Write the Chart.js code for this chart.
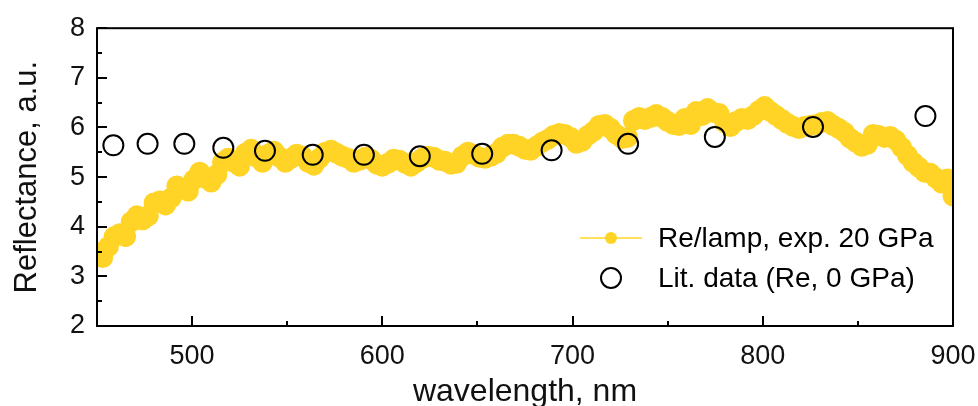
<!DOCTYPE html>
<html>
<head>
<meta charset="utf-8">
<script src="https://cdn.jsdelivr.net/npm/chart.js@4.4.0/dist/chart.umd.min.js"></script>
<style>
    html, body { margin: 0; padding: 0; background: #fff; }
    #wrap { width: 978px; height: 406px; position: relative; }
</style>
</head>
<body>
<div id="wrap"><canvas id="reflChart"></canvas></div>
<script>
// measured spectrum (Re/lamp ratio, 20 GPa)
const expWavelength = [
    450, 453, 456, 459, 462, 465, 468, 471, 474, 477, 480, 483, 486, 489, 492, 495, 498, 501, 504, 507,
    510, 513, 516, 519, 522, 525, 528, 531, 534, 537, 540, 543, 546, 549, 552, 555, 558, 561, 564, 567,
    570, 573, 576, 579, 582, 585, 588, 591, 594, 597, 600, 603, 606, 609, 612, 615, 618, 621, 624, 627,
    630, 633, 636, 639, 642, 645, 648, 651, 654, 657, 660, 663, 666, 669, 672, 675, 678, 681, 684, 687,
    690, 693, 696, 699, 702, 705, 708, 711, 714, 717, 720, 723, 726, 729, 732, 735, 738, 741, 744, 747,
    750, 753, 756, 759, 762, 765, 768, 771, 774, 777, 780, 783, 786, 789, 792, 795, 798, 801, 804, 807,
    810, 813, 816, 819, 822, 825, 828, 831, 834, 837, 840, 843, 846, 849, 852, 855, 858, 861, 864, 867,
    870, 873, 876, 879, 882, 885, 888, 891, 894, 897, 900
];
const expReflectance = [
    3.48, 3.38, 3.60, 3.80, 3.86, 3.80, 4.10, 4.22, 4.14, 4.22, 4.48, 4.52, 4.44, 4.58, 4.82, 4.76, 4.72, 4.95, 5.10, 4.98,
    4.90, 5.05, 5.30, 5.38, 5.30, 5.22, 5.48, 5.56, 5.40, 5.30, 5.46, 5.52, 5.40, 5.30, 5.38, 5.46, 5.42, 5.30, 5.24, 5.38,
    5.50, 5.54, 5.48, 5.42, 5.38, 5.30, 5.34, 5.40, 5.36, 5.26, 5.22, 5.28, 5.36, 5.34, 5.28, 5.22, 5.30, 5.38, 5.42, 5.40,
    5.34, 5.32, 5.26, 5.28, 5.42, 5.50, 5.46, 5.40, 5.38, 5.42, 5.48, 5.60, 5.66, 5.66, 5.62, 5.56, 5.54, 5.62, 5.70, 5.76,
    5.84, 5.88, 5.86, 5.80, 5.68, 5.72, 5.84, 5.92, 6.04, 6.06, 5.98, 5.86, 5.78, 5.80, 6.14, 6.20, 6.16, 6.20, 6.26, 6.20,
    6.12, 6.06, 6.04, 6.18, 6.06, 6.32, 6.24, 6.38, 6.30, 6.28, 6.10, 6.02, 6.12, 6.18, 6.16, 6.24, 6.34, 6.42, 6.32, 6.24,
    6.16, 6.08, 6.02, 5.98, 6.02, 6.04, 6.06, 6.10, 6.12, 6.04, 5.98, 5.90, 5.78, 5.70, 5.62, 5.66, 5.86, 5.84, 5.80, 5.82,
    5.74, 5.60, 5.44, 5.30, 5.20, 5.10, 5.08, 4.98, 4.88, 4.96, 4.62
];

// literature values for Re at ambient pressure
const litWavelength = [458.6, 476.6, 495.9, 516.4, 538.3, 563.4, 590.3, 619.7, 652.5, 689, 729.2, 774.8, 826.4, 885.5];
const litReflectance = [5.64, 5.67, 5.67, 5.59, 5.53, 5.45, 5.45, 5.42, 5.47, 5.54, 5.67, 5.81, 6.01, 6.23];

const xMajorTicks = [500, 600, 700, 800, 900];
const xMinorTicks = [550, 650, 750, 850];
const yMajorTicks = [2, 3, 4, 5, 6, 7, 8];
const yMinorTicks = [2.5, 3.5, 4.5, 5.5, 6.5, 7.5];

const YELLOW = '#ffd426';
const FONT = '"Liberation Sans", Arial, sans-serif';

const expPoints = expWavelength.map((w, i) => ({ x: w, y: expReflectance[i] }));
const litPoints = litWavelength.map((w, i) => ({ x: w, y: litReflectance[i] }));

// box around the plot + inward ticks
const frameTicks = {
    id: 'frameTicks',
    afterDatasetsDraw(chart) {
        const { ctx, chartArea: a, scales } = chart;
        ctx.save();
        ctx.strokeStyle = '#000';
        ctx.lineWidth = 2;
        ctx.strokeRect(a.left, a.top, a.right - a.left, a.bottom - a.top);

        ctx.beginPath();
        const xTick = (v, len) => {
            const px = Math.round(scales.x.getPixelForValue(v));
            ctx.moveTo(px, a.bottom);
            ctx.lineTo(px, a.bottom - len);
        };
        const yTick = (v, len) => {
            const py = Math.round(scales.y.getPixelForValue(v));
            ctx.moveTo(a.left, py);
            ctx.lineTo(a.left + len, py);
        };
        xMajorTicks.forEach(v => xTick(v, 10));
        xMinorTicks.forEach(v => xTick(v, 5));
        yMajorTicks.forEach(v => yTick(v, 10));
        yMinorTicks.forEach(v => yTick(v, 5));
        ctx.stroke();
        ctx.restore();
    }
};

// legend sits inside the plot, lower right
const insideLegend = {
    id: 'insideLegend',
    afterDraw(chart) {
        const ctx = chart.ctx;
        const ds = chart.data.datasets;
        const sx = 611, tx = 658;
        ctx.save();

        // experiment: thin line with a dot
        ctx.strokeStyle = YELLOW;
        ctx.lineWidth = 1.5;
        ctx.beginPath();
        ctx.moveTo(580, 238);
        ctx.lineTo(642, 238);
        ctx.stroke();
        ctx.fillStyle = YELLOW;
        ctx.beginPath();
        ctx.arc(sx, 238, 6, 0, Math.PI * 2);
        ctx.fill();

        // literature: open circle
        ctx.strokeStyle = '#000';
        ctx.lineWidth = 2;
        ctx.beginPath();
        ctx.arc(sx, 278, 10, 0, Math.PI * 2);
        ctx.stroke();

        ctx.fillStyle = '#000';
        ctx.font = '28px ' + FONT;
        ctx.textBaseline = 'middle';
        ctx.fillText(ds[1].label, tx, 239);
        ctx.fillText(ds[0].label, tx, 279);
        ctx.restore();
    }
};

new Chart(document.getElementById('reflChart'), {
    type: 'scatter',
    data: {
        datasets: [
            {
                label: 'Lit. data (Re, 0 GPa)',
                data: litPoints,
                order: 0,
                showLine: false,
                pointRadius: 10,
                pointBorderWidth: 2,
                pointBorderColor: '#000',
                pointBackgroundColor: 'rgba(0,0,0,0)'
            },
            {
                label: 'Re/lamp, exp. 20 GPa',
                data: expPoints,
                order: 1,
                showLine: true,
                borderColor: YELLOW,
                borderWidth: 2,
                pointRadius: 10.5,
                pointBorderWidth: 0,
                pointBackgroundColor: YELLOW,
                clip: 0
            }
        ]
    },
    options: {
        responsive: true,
        maintainAspectRatio: false,
        animation: false,
        layout: { padding: { top: 26, right: 25, left: 0, bottom: 0 } },
        plugins: {
            legend: { display: false },
            tooltip: { enabled: false }
        },
        scales: {
            x: {
                type: 'linear',
                min: 450,
                max: 900,
                afterBuildTicks: s => { s.ticks = xMajorTicks.map(v => ({ value: v })); },
                afterFit: s => { s.height = 80; s.paddingLeft = 0; s.paddingRight = 0; },
                grid: { display: false, drawTicks: false },
                border: { display: false },
                ticks: { color: '#111', padding: 14, font: { family: FONT, size: 27 } },
                title: {
                    display: true,
                    text: 'wavelength, nm',
                    color: '#111',
                    padding: { top: 0, bottom: -5 },
                    font: { family: FONT, size: 32 }
                }
            },
            y: {
                min: 2,
                max: 8,
                afterBuildTicks: s => { s.ticks = yMajorTicks.map(v => ({ value: v })); },
                afterFit: s => { s.width = 97; },
                grid: { display: false, drawTicks: false },
                border: { display: false },
                ticks: { color: '#111', padding: 12, font: { family: FONT, size: 27 } },
                title: {
                    display: true,
                    text: 'Reflectance, a.u.',
                    color: '#111',
                    padding: { top: 9, bottom: 0 },
                    font: { family: FONT, size: 31 }
                }
            }
        }
    },
    plugins: [frameTicks, insideLegend]
});
</script>
</body>
</html>
